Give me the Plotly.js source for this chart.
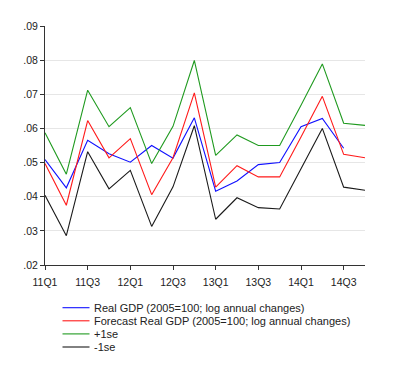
<!DOCTYPE html>
<html>
<head>
<meta charset="utf-8">
<script src="https://cdn.plot.ly/plotly-3.0.1.min.js"></script>
<style>html,body{margin:0;padding:0;background:#fff;}#chart{width:400px;height:379px;}</style>
</head>
<body>
<div id="chart"></div>
<script>
// ---- data ----
var quarters = ['11Q1','11Q2','11Q3','11Q4','12Q1','12Q2','12Q3','12Q4',
                '13Q1','13Q2','13Q3','13Q4','14Q1','14Q2','14Q3','14Q4'];
var xTickLabels = ['11Q1','11Q3','12Q1','12Q3','13Q1','13Q3','14Q1','14Q3'];
var yTickVals = [0.02,0.03,0.04,0.05,0.06,0.07,0.08,0.09];
var yTickLabels = ['.02','.03','.04','.05','.06','.07','.08','.09'];
var yGridVals = [0.03,0.04,0.05,0.06,0.07,0.08];

var realGDP  = [0.0509,0.0426,0.0565,0.0526,0.0501,0.0550,0.0513,0.0631,
                0.0416,0.0446,0.0494,0.0500,0.0605,0.0629,0.0542];
var forecast = [0.0497,0.0375,0.0623,0.0514,0.0570,0.0406,0.0514,0.0704,
                0.0428,0.0491,0.0458,0.0458,0.0575,0.0694,0.0524,0.0514];
var plus1se  = [0.0587,0.0466,0.0712,0.0605,0.0661,0.0497,0.0606,0.0799,
                0.0521,0.0581,0.0550,0.0550,0.0668,0.0789,0.0615,0.0609];
var minus1se = [0.0404,0.0286,0.0532,0.0423,0.0477,0.0313,0.0429,0.0608,
                0.0334,0.0397,0.0368,0.0364,0.0482,0.0600,0.0428,0.0419];

var seriesNames = ['Real GDP (2005=100; log annual changes)',
                   'Forecast Real GDP (2005=100; log annual changes)',
                   '+1se', '-1se'];
var seriesData = [realGDP, forecast, plus1se, minus1se];
var seriesColors = ['#1010ff', '#ff1a1a', '#1f9a1f', '#1a1a1a'];

// ---- layout geometry ----
var W = 400, H = 379;
var M = {l: 45, r: 35, t: 26, b: 114};
var pw = W - M.l - M.r, ph = H - M.t - M.b;
function pxX(px){ return (px - M.l) / pw; }
function pxY(py){ return (H - M.b - py) / ph; }

var FONT = 'Liberation Sans, Arial, sans-serif';

var traces = seriesData.map(function(d, i){
  return {
    type: 'scatter', mode: 'lines',
    x: quarters.slice(0, d.length), y: d,
    name: seriesNames[i],
    line: {color: seriesColors[i], width: 1.1},
    showlegend: false, hoverinfo: 'skip'
  };
});
// invisible trace to activate the grid-only overlay axis
traces.push({type:'scatter', mode:'lines', x:[quarters[0]], y:[0.05], yaxis:'y2',
             showlegend:false, hoverinfo:'skip', line:{width:0}, opacity:0});

// custom compact legend
var legY0 = 307.7, legStep = 13.1;
var shapes = [], annotations = [];
seriesNames.forEach(function(n, i){
  var py = legY0 + i * legStep;
  shapes.push({type:'line', xref:'paper', yref:'paper',
               x0: pxX(62.5), x1: pxX(89.5), y0: pxY(py), y1: pxY(py),
               line:{color: seriesColors[i], width: 1.1}});
  annotations.push({xref:'paper', yref:'paper', x: pxX(91.5), y: pxY(py),
                    xanchor:'left', yanchor:'middle', showarrow:false,
                    text: n, font:{family: FONT, size: 11, color:'#222'}});
});

var layout = {
  width: W, height: H,
  margin: M,
  paper_bgcolor: '#fff', plot_bgcolor: '#fff',
  font: {family: FONT, size: 10, color: '#222'},
  showlegend: false,
  xaxis: {
    type: 'category', categoryorder: 'array', categoryarray: quarters,
    range: [0, quarters.length - 1],
    tickmode: 'array', tickvals: xTickLabels, ticktext: xTickLabels,
    ticks: 'outside', ticklen: 4, tickcolor: '#333', tickwidth: 1,
    ticklabelstandoff: 3,
    showline: true, linecolor: '#333', linewidth: 1,
    showgrid: false, zeroline: false,
    tickfont: {family: FONT, size: 10.5, color: '#222'}
  },
  yaxis: {
    range: [0.02, 0.09],
    tickmode: 'array', tickvals: yTickVals, ticktext: yTickLabels,
    ticks: 'outside', ticklen: 4, tickcolor: '#333', tickwidth: 1,
    showline: true, linecolor: '#333', linewidth: 1,
    showgrid: false, zeroline: false,
    tickfont: {family: FONT, size: 10.5, color: '#222'}
  },
  yaxis2: {
    overlaying: 'y', range: [0.02, 0.09],
    tickmode: 'array', tickvals: yGridVals,
    showticklabels: false, ticks: '', showline: false, zeroline: false,
    showgrid: true, gridcolor: '#e6e6e6', gridwidth: 1, layer: 'below traces'
  },
  shapes: shapes,
  annotations: annotations
};

Plotly.newPlot('chart', traces, layout, {displayModeBar: false, staticPlot: true});
</script>
</body>
</html>
